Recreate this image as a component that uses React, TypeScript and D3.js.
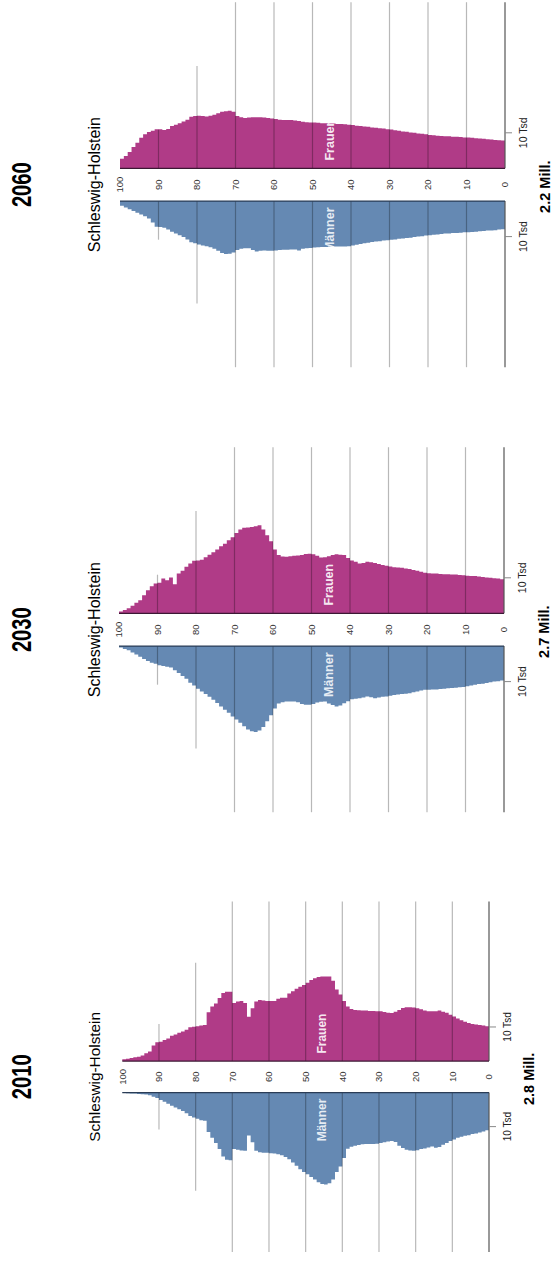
import { useEffect, useRef } from 'react';
import * as d3 from 'd3';

// age groups, single years 0..99 (bars), labelled every 10 years
const AGES = d3.range(0, 100);
const AGE_TICKS = [0, 10, 20, 30, 40, 50, 60, 70, 80, 90, 100];

// population in Tsd., index = age 0 .. 99
const women2010 = [
  10.2, 10.4, 10.6, 10.7, 10.9, 11.2, 11.5, 12.0, 12.5, 13.1,
  13.6, 14.2, 14.5, 14.8, 14.6, 14.6, 14.6, 14.8, 15.2, 15.5,
  15.7, 15.8, 15.8, 15.6, 15.0, 14.5, 14.1, 14.2, 14.4, 14.6,
  14.6, 14.7, 14.7, 14.8, 14.8, 14.9, 15.0, 15.3, 16.0, 17.6,
  19.5, 21.0, 23.6, 24.8, 24.8, 24.8, 24.7, 24.3, 23.8, 23.0,
  22.3, 21.8, 21.2, 20.5, 19.8, 18.6, 18.6, 18.3, 17.6, 17.6,
  17.6, 17.8, 17.9, 17.5, 15.5, 13.0, 17.0, 17.6, 17.5, 17.0,
  20.3, 20.3, 20.0, 18.5, 16.9, 16.0, 14.3, 10.6, 10.4, 10.2,
  10.1, 9.9, 9.2, 8.7, 8.3, 7.8, 7.4, 6.6, 6.2, 5.7,
  5.5, 4.6, 2.8, 2.3, 1.6, 1.3, 1.1, 0.9, 0.7, 0.5,
];
const men2010 = [
  11.1, 11.4, 11.7, 12.0, 12.2, 12.5, 12.7, 13.0, 13.3, 13.8,
  14.2, 14.8, 15.3, 16.0, 16.2, 15.8, 16.1, 16.4, 16.6, 16.9,
  17.1, 17.0, 16.8, 16.3, 15.6, 14.5, 14.2, 14.4, 14.6, 14.8,
  15.0, 15.1, 15.1, 15.1, 15.2, 15.4, 15.6, 15.9, 16.5, 19.2,
  21.7, 23.3, 25.5, 26.6, 27.0, 26.8, 26.3, 25.5, 24.8, 24.0,
  23.3, 22.5, 21.5, 20.5, 19.6, 18.9, 18.4, 18.1, 17.9, 17.8,
  17.7, 17.7, 17.5, 17.1, 14.6, 12.6, 17.1, 17.0, 16.8, 16.6,
  19.9, 19.7, 18.8, 16.6, 14.8, 13.3, 11.6, 8.3, 8.1, 7.7,
  7.3, 6.9, 6.1, 5.4, 4.9, 4.4, 3.9, 3.3, 2.7, 2.2,
  1.6, 1.2, 0.8, 0.6, 0.5, 0.4, 0.3, 0.3, 0.2, 0.1,
];
const women2030 = [
  9.6, 9.8, 9.9, 10.0, 10.1, 10.2, 10.4, 10.5, 10.5, 10.6,
  10.7, 10.8, 10.9, 10.9, 11.0, 11.0, 11.1, 11.2, 11.2, 11.3,
  11.4, 11.7, 12.0, 12.2, 12.5, 12.6, 12.8, 12.9, 13.0, 13.2,
  13.4, 13.6, 13.9, 14.2, 14.4, 14.5, 14.2, 14.0, 14.5, 14.9,
  15.6, 16.4, 16.5, 16.6, 16.4, 16.1, 15.8, 15.7, 16.2, 16.6,
  16.8, 16.7, 16.4, 16.3, 16.2, 16.1, 15.9, 16.0, 16.4, 18.0,
  20.3, 22.0, 23.6, 24.8, 24.5, 24.3, 24.2, 24.1, 23.6, 22.6,
  21.4, 20.6, 19.6, 18.9, 18.0, 17.2, 16.5, 15.8, 15.1, 14.9,
  14.8, 14.0, 13.1, 12.0, 11.2, 8.2, 10.1, 9.3, 9.8, 8.6,
  8.4, 7.6, 6.5, 5.1, 3.7, 3.0, 2.1, 1.4, 0.9, 0.5,
];
const men2030 = [
  9.7, 9.9, 10.0, 10.2, 10.4, 10.6, 10.7, 10.9, 11.1, 11.3,
  11.5, 11.6, 11.7, 11.8, 11.9, 12.0, 12.1, 12.2, 12.2, 12.3,
  12.3, 12.5, 12.8, 13.0, 13.3, 13.4, 13.5, 13.6, 13.8, 14.0,
  14.2, 14.3, 14.5, 14.7, 14.4, 14.2, 14.5, 14.7, 14.8, 15.0,
  15.5, 16.1, 16.7, 17.0, 16.6, 16.2, 15.6, 15.7, 15.9, 16.3,
  16.5, 16.5, 16.3, 15.8, 15.6, 15.6, 15.6, 15.8, 16.2, 17.6,
  19.5, 21.2, 22.8, 23.8, 24.2, 24.0, 23.5, 22.6, 21.6, 20.7,
  19.8, 18.8, 17.9, 17.0, 16.0, 15.1, 14.3, 13.5, 12.8, 12.0,
  11.1, 10.3, 9.2, 8.4, 7.6, 6.8, 6.0, 5.8, 5.6, 5.4,
  5.0, 4.7, 4.2, 3.6, 3.0, 2.4, 1.8, 1.2, 0.8, 0.4,
];
const women2060 = [
  7.8, 7.9, 8.0, 8.1, 8.2, 8.3, 8.4, 8.5, 8.6, 8.7,
  8.7, 8.8, 8.9, 8.9, 9.0, 9.0, 9.1, 9.2, 9.3, 9.4,
  9.6, 9.7, 9.8, 10.0, 10.1, 10.3, 10.4, 10.6, 10.7, 10.9,
  11.0, 11.2, 11.3, 11.4, 11.5, 11.7, 11.8, 11.9, 12.0, 12.2,
  12.3, 12.4, 12.5, 12.5, 12.6, 12.6, 12.7, 12.7, 12.8, 12.9,
  12.9, 13.0, 13.1, 13.3, 13.5, 13.6, 13.6, 13.6, 13.7, 13.9,
  14.0, 14.2, 14.3, 14.4, 14.4, 14.4, 14.3, 14.2, 14.4, 14.7,
  15.9, 16.2, 16.1, 15.9, 15.5, 15.1, 14.8, 14.6, 14.7, 14.8,
  14.7, 14.5, 13.7, 13.2, 12.7, 12.3, 11.9, 11.1, 10.8, 11.0,
  11.0, 10.6, 10.2, 9.6, 8.6, 7.2, 6.0, 4.6, 3.5, 2.7,
];
const men2060 = [
  7.9, 8.0, 8.2, 8.3, 8.3, 8.4, 8.5, 8.6, 8.7, 8.8,
  8.8, 8.9, 9.0, 9.0, 9.1, 9.1, 9.3, 9.4, 9.5, 9.6,
  9.7, 9.9, 10.0, 10.1, 10.3, 10.4, 10.5, 10.6, 10.8, 10.9,
  11.0, 11.1, 11.3, 11.4, 11.5, 11.7, 11.9, 12.1, 12.3, 12.5,
  12.7, 12.8, 12.8, 12.8, 12.8, 12.8, 12.9, 12.9, 13.0, 13.1,
  13.2, 13.3, 13.4, 13.9, 13.6, 13.6, 13.7, 13.7, 13.8, 13.9,
  14.0, 14.0, 13.9, 14.0, 14.2, 13.8, 13.3, 13.3, 13.4, 13.8,
  14.5, 14.8, 14.9, 14.6, 14.0, 13.4, 13.0, 12.7, 12.5, 12.2,
  11.9, 11.6, 10.8, 10.1, 9.6, 9.1, 8.6, 8.0, 7.5, 7.3,
  7.2, 6.0, 4.9, 4.3, 3.8, 3.3, 2.8, 2.3, 1.8, 1.3,
];

const YEARS = ['2060', '2030', '2010'];
const TOTALS = ['2.2 Mill.', '2.7 Mill.', '2.8 Mill.'];
const REGION = 'Schleswig-Holstein';

const FONT = '"Liberation Sans", Arial, sans-serif';
const PINK = '#b03b87';
const BLUE = '#6589b3';

// one rotated pyramid per year: age runs left (100) to right (0)
const PANELS = [
  { year: YEARS[0], total: TOTALS[0], women: women2060, men: men2060, x100: 120, x0: 505, cy: 184.7, k: 1 },
  { year: YEARS[1], total: TOTALS[1], women: women2030, men: men2030, x100: 119, x0: 504, cy: 629.7, k: 1 },
  { year: YEARS[2], total: TOTALS[2], women: women2010, men: men2010, x100: 122.3, x0: 489, cy: 1076.8, k: 0.96 },
];

export default function App() {
  const svgRef = useRef<SVGSVGElement>(null);

  useEffect(() => {
    if (!svgRef.current) return;
    const svg = d3.select(svgRef.current);
    svg.selectAll('*').remove();

    PANELS.forEach((p) => {
      const g = svg.append('g');
      const k = p.k;
      const x = d3.scaleLinear().domain([100, 0]).range([p.x100, p.x0]);
      const v = d3.scaleLinear().domain([0, 10]).range([0, 35.5 * k]);
      const gap = 16.4 * k;
      const yF = p.cy - gap;
      const yM = p.cy + gap;

      // each one-year bar spans [age, age + 1] on the age axis
      const steps = (vals: number[]) =>
        AGES.flatMap((a) => [
          { x: x(a), v: vals[a] },
          { x: x(a + 1), v: vals[a] },
        ]);

      const womenArea = d3
        .area<{ x: number; v: number }>()
        .x((d) => d.x)
        .y0(yF)
        .y1((d) => yF - v(d.v));
      const menArea = d3
        .area<{ x: number; v: number }>()
        .x((d) => d.x)
        .y0(yM)
        .y1((d) => yM + v(d.v));

      g.append('path').attr('d', womenArea(steps(p.women))).attr('fill', PINK);
      g.append('path').attr('d', menArea(steps(p.men))).attr('fill', BLUE);

      // grid lines, drawn over the bars
      AGE_TICKS.filter((t) => t > 0 && t < 100).forEach((t) => {
        const ext = (t <= 70 ? 182.5 : t === 80 ? 118.7 : 55) * k;
        [
          [p.cy - ext, yF],
          [yM, p.cy + ext],
        ].forEach(([a, b]) => {
          g.append('line')
            .attr('x1', x(t))
            .attr('x2', x(t))
            .attr('y1', a)
            .attr('y2', b)
            .attr('stroke', '#000')
            .attr('stroke-opacity', 0.28)
            .attr('stroke-width', 1.2);
        });
      });
      [
        [p.cy - 182.5 * k, yF],
        [yM, p.cy + 182.5 * k],
      ].forEach(([a, b]) => {
        g.append('line')
          .attr('x1', x(0))
          .attr('x2', x(0))
          .attr('y1', a)
          .attr('y2', b)
          .attr('stroke', '#555')
          .attr('stroke-width', 1.2);
      });

      // base lines of both halves
      g.append('line')
        .attr('x1', x(100)).attr('x2', x(0))
        .attr('y1', yF).attr('y2', yF)
        .attr('stroke', '#3c1834').attr('stroke-width', 1.2);
      g.append('line')
        .attr('x1', x(100)).attr('x2', x(0))
        .attr('y1', yM).attr('y2', yM)
        .attr('stroke', '#2a3c56').attr('stroke-width', 1.2);

      // 10 Tsd markers
      [yF - v(10), yM + v(10)].forEach((ty) => {
        g.append('line')
          .attr('x1', x(0)).attr('x2', x(0) + 7)
          .attr('y1', ty).attr('y2', ty)
          .attr('stroke', '#888').attr('stroke-width', 1);
        g.append('text')
          .attr('transform', `translate(${x(0) + 18.5},${ty}) rotate(-90)`)
          .attr('text-anchor', 'middle')
          .attr('dy', '0.35em')
          .attr('font-family', FONT)
          .attr('font-size', 10.5 * k)
          .attr('fill', '#222')
          .text('10 Tsd');
      });

      // age labels between the halves
      AGE_TICKS.forEach((t) => {
        g.append('text')
          .attr('transform', `translate(${x(t)},${p.cy}) rotate(-90)`)
          .attr('text-anchor', 'middle')
          .attr('dy', '0.35em')
          .attr('font-family', FONT)
          .attr('font-size', 9.5)
          .attr('fill', '#333')
          .text(String(t));
      });

      // sex labels inside the bars
      [
        ['Frauen', p.cy - 45 * k, 0.9],
        ['Männer', p.cy + 45 * k, 0.85],
      ].forEach(([label, ly, op]) => {
        g.append('text')
          .attr('transform', `translate(${x(45.6)},${ly}) rotate(-90)`)
          .attr('text-anchor', 'middle')
          .attr('dy', '0.35em')
          .attr('font-family', FONT)
          .attr('font-weight', 'bold')
          .attr('font-size', 12.5 * k)
          .attr('fill', '#fff')
          .attr('fill-opacity', op as number)
          .text(label as string);
      });

      // titles
      g.append('text')
        .attr('transform', `translate(21,${p.cy}) rotate(-90) scale(0.72,1)`)
        .attr('text-anchor', 'middle')
        .attr('dy', '0.36em')
        .attr('font-family', FONT)
        .attr('font-weight', 'bold')
        .attr('font-size', 28)
        .attr('fill', '#000')
        .text(p.year);
      g.append('text')
        .attr('transform', `translate(100,${p.cy}) rotate(-90)`)
        .attr('text-anchor', 'middle')
        .attr('font-family', FONT)
        .attr('font-size', 16 * k)
        .attr('fill', '#000')
        .text(REGION);
      g.append('text')
        .attr('transform', `translate(${x(0) + 39.5},${p.cy + 2}) rotate(-90)`)
        .attr('text-anchor', 'middle')
        .attr('dy', '0.36em')
        .attr('font-family', FONT)
        .attr('font-weight', 'bold')
        .attr('font-size', 14.5)
        .attr('fill', '#000')
        .text(p.total);
    });
  }, []);

  return (
    <svg
      ref={svgRef}
      width={557}
      height={1263}
      style={{ position: 'absolute', left: 0, top: 0, background: '#fff' }}
    />
  );
}
